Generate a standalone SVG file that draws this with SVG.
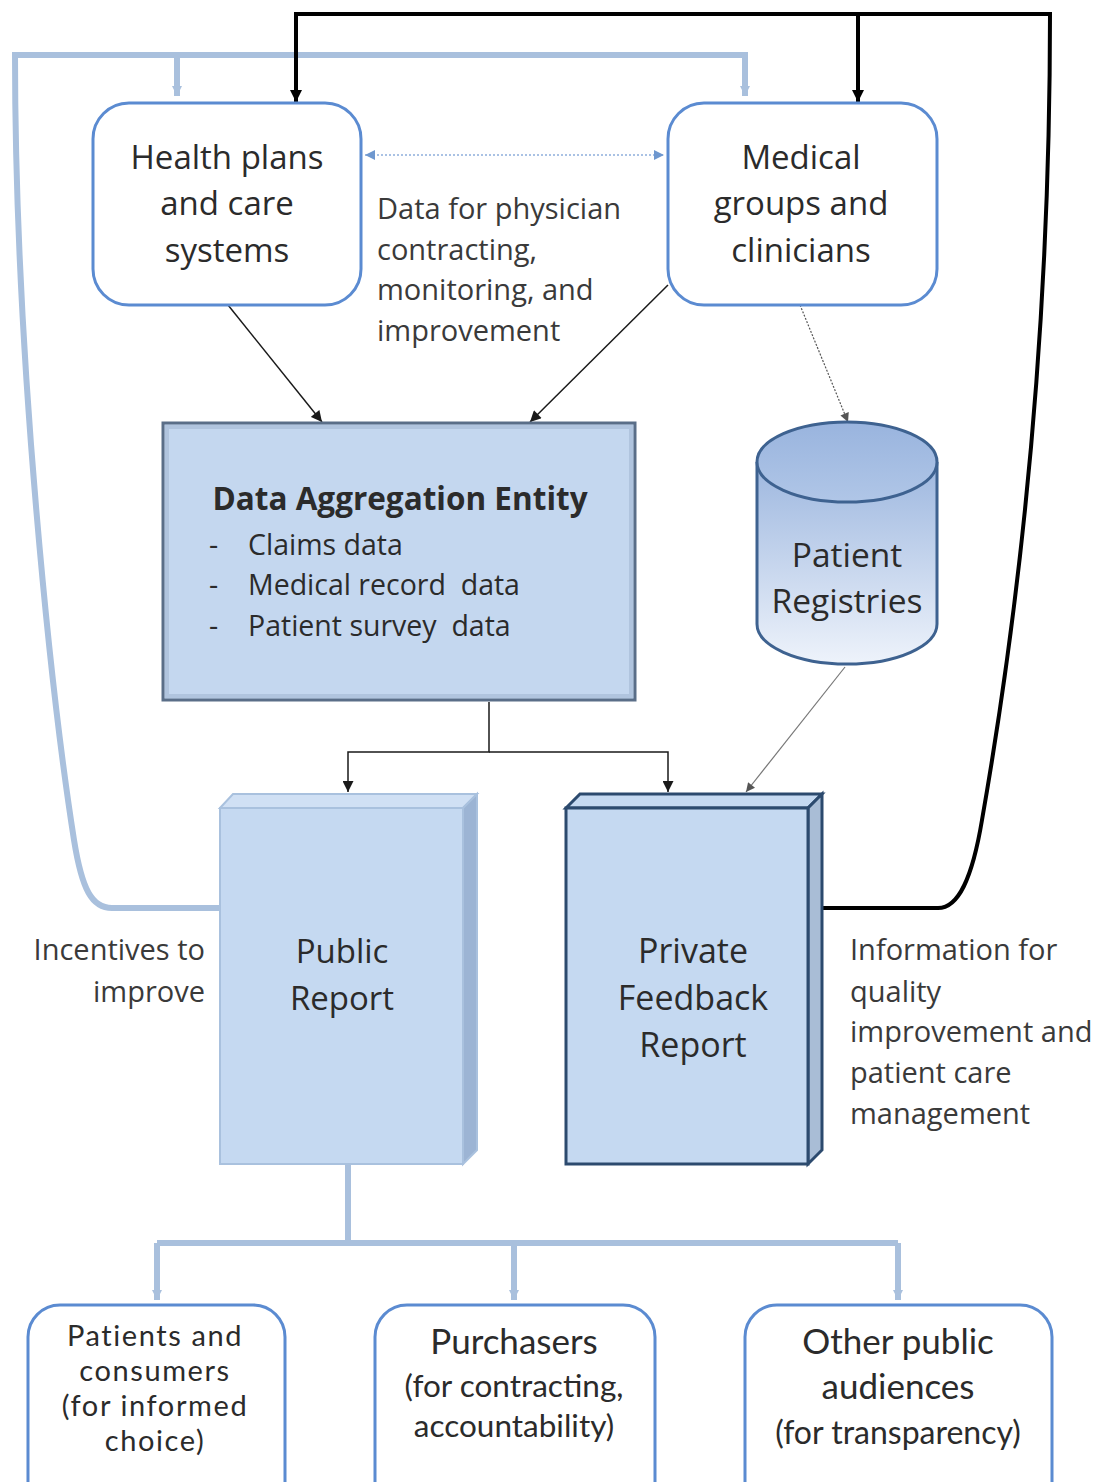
<svg xmlns="http://www.w3.org/2000/svg" width="1097" height="1482" viewBox="0 0 1097 1482">
<defs>
<style>
.t{font-family:"Open Sans","Liberation Sans",sans-serif;fill:#2b2b2b}
.c{font-family:Lato,"Open Sans","Liberation Sans",sans-serif;fill:#2b2b2b;text-anchor:middle}
.n{font-size:33px;text-anchor:middle}
.lab{font-size:29px;fill:#3a3a3a}
.rbox{fill:#ffffff;stroke:#5b8bd1;stroke-width:3}
.lb{fill:none;stroke:#a9c0dd;stroke-width:6}
.bk{fill:none;stroke:#000;stroke-width:4}
.thin{fill:none;stroke:#1a1a1a;stroke-width:1.5}
</style>
<marker id="ab" viewBox="0 0 10 10" refX="10" refY="5" markerUnits="userSpaceOnUse" markerWidth="12" markerHeight="14" orient="auto"><path d="M0,0L10,5L0,10z" fill="#000"/></marker>
<marker id="at" viewBox="0 0 10 10" refX="10" refY="5" markerUnits="userSpaceOnUse" markerWidth="13" markerHeight="11" orient="auto"><path d="M0,0L10,5L0,10z" fill="#1a1a1a"/></marker>
<marker id="ag" viewBox="0 0 10 10" refX="10" refY="5" markerUnits="userSpaceOnUse" markerWidth="11" markerHeight="9" orient="auto"><path d="M0,0L10,5L0,10z" fill="#555"/></marker>
<marker id="al" viewBox="0 0 10 10" refX="10" refY="5" markerUnits="userSpaceOnUse" markerWidth="10" markerHeight="12" orient="auto"><path d="M0,0L10,5L0,10z" fill="#a9c0dd"/></marker>
<marker id="ad" viewBox="0 0 10 10" refX="10" refY="5" markerUnits="userSpaceOnUse" markerWidth="10" markerHeight="10" orient="auto-start-reverse"><path d="M0,0L10,5L0,10z" fill="#6f98cf"/></marker>
<linearGradient id="cyl" x1="0" y1="0" x2="0" y2="1"><stop offset="0" stop-color="#9db7df"/><stop offset="1" stop-color="#eef3fb"/></linearGradient>
<linearGradient id="cyltop" x1="0" y1="0" x2="0" y2="1"><stop offset="0" stop-color="#99b4de"/><stop offset="1" stop-color="#b0c6e7"/></linearGradient>
</defs>
<rect width="1097" height="1482" fill="#ffffff"/>

<g id="connectors">
<path class="lb" d="M220,908 H112 C92,908 82,890 74,840 C52,700 15,360 15,55 H745 V96" marker-end="url(#al)"/>
<path class="lb" d="M177,55 V96" marker-end="url(#al)"/>
<path class="bk" d="M822,908 H938 C958,908 972,880 982,820 C1010,660 1050,380 1050,14 H296 V102" marker-end="url(#ab)"/>
<path class="bk" d="M858,14 V102" marker-end="url(#ab)"/>
<path d="M365,155 H664" fill="none" stroke="#8eaedb" stroke-width="1.6" stroke-dasharray="2 2" marker-start="url(#ad)" marker-end="url(#ad)"/>
<path class="thin" d="M228,305 L322,422" marker-end="url(#at)"/>
<path class="thin" d="M668,285 L530,422" marker-end="url(#at)"/>
<path d="M800,305 L848,422" fill="none" stroke="#555" stroke-width="1.2" stroke-dasharray="2 1.5" marker-end="url(#ag)"/>
<path class="thin" d="M489,702 V752 H348 V792" marker-end="url(#at)"/>
<path class="thin" d="M489,752 H668 V792" marker-end="url(#at)"/>
<path d="M845,667 L746,792" fill="none" stroke="#777" stroke-width="1.2" marker-end="url(#ag)"/>
<path class="lb" d="M348,1165 V1243"/>
<path class="lb" d="M157,1243 H898"/>
<path class="lb" d="M157,1243 V1300" marker-end="url(#al)"/>
<path class="lb" d="M514,1243 V1300" marker-end="url(#al)"/>
<path class="lb" d="M898,1243 V1300" marker-end="url(#al)"/>
</g>

<g id="health-plans">
<rect class="rbox" x="93" y="103" width="268" height="202" rx="36"/>
<text class="t n"><tspan x="227" y="169">Health plans</tspan><tspan x="227" y="215">and care</tspan><tspan x="227" y="262">systems</tspan></text>
</g>

<g id="medical-groups">
<rect class="rbox" x="668" y="103" width="269" height="202" rx="36"/>
<text class="t n"><tspan x="801" y="169">Medical</tspan><tspan x="801" y="215">groups and</tspan><tspan x="801" y="262">clinicians</tspan></text>
</g>

<g id="data-label">
<text class="t lab"><tspan x="377" y="219">Data for physician</tspan><tspan x="377" y="260">contracting,</tspan><tspan x="377" y="300">monitoring, and</tspan><tspan x="377" y="341">improvement</tspan></text>
</g>

<g id="data-aggregation">
<rect x="163" y="423" width="472" height="277" fill="#c4d7ef" stroke="#5a6e88" stroke-width="3"/>
<rect x="167" y="427" width="464" height="269" fill="none" stroke="#b0c4de" stroke-width="4"/>
<text class="t" x="400" y="510" style="font-size:31.5px;font-weight:bold" text-anchor="middle" fill="#1c1c24">Data Aggregation Entity</text>
<text class="t" style="font-size:28.5px" xml:space="preserve"><tspan x="209" y="555">-</tspan><tspan x="248" y="555">Claims data</tspan><tspan x="209" y="595">-</tspan><tspan x="248" y="595">Medical record  data</tspan><tspan x="209" y="636">-</tspan><tspan x="248" y="636">Patient survey  data</tspan></text>
</g>

<g id="patient-registries">
<path d="M757,462 V624 A90,40 0 0 0 937,624 V462" fill="url(#cyl)" stroke="#3e6290" stroke-width="3"/>
<ellipse cx="847" cy="462" rx="90" ry="40" fill="url(#cyltop)" stroke="#3e6290" stroke-width="3"/>
<text class="t n" style="font-size:33.5px"><tspan x="847" y="567">Patient</tspan><tspan x="847" y="613">Registries</tspan></text>
</g>

<g id="public-report">
<path d="M220,808 L233,794 H477 L463,808 Z" fill="#d0e0f4" stroke="#a9c1de" stroke-width="2"/>
<path d="M463,808 L477,794 V1150 L463,1164 Z" fill="#9cb4d4" stroke="#a9c1de" stroke-width="2"/>
<rect x="220" y="808" width="243" height="356" fill="#c5d9f1" stroke="#a9c1de" stroke-width="2"/>
<text class="t n"><tspan x="342" y="963">Public</tspan><tspan x="342" y="1010">Report</tspan></text>
</g>

<g id="private-report">
<path d="M566,808 L580,794 H822 L808,808 Z" fill="#c5d9f1" stroke="#2c4a6e" stroke-width="3"/>
<path d="M808,808 L822,794 V1150 L808,1164 Z" fill="#a9bdd6" stroke="#2c4a6e" stroke-width="3"/>
<rect x="566" y="808" width="242" height="356" fill="#c5d9f1" stroke="#2c4a6e" stroke-width="3"/>
<text class="t n" style="font-size:34px"><tspan x="693" y="963">Private</tspan><tspan x="693" y="1010">Feedback</tspan><tspan x="693" y="1057">Report</tspan></text>
</g>

<g id="incentives-label">
<text class="t lab" text-anchor="end"><tspan x="205" y="960">Incentives to</tspan><tspan x="205" y="1002">improve</tspan></text>
</g>

<g id="information-label">
<text class="t lab"><tspan x="850" y="960">Information for</tspan><tspan x="850" y="1002">quality</tspan><tspan x="850" y="1042">improvement and</tspan><tspan x="850" y="1083">patient care</tspan><tspan x="850" y="1124">management</tspan></text>
</g>

<g id="patients">
<rect class="rbox" x="28" y="1305" width="257" height="230" rx="32"/>
<text class="c" style="font-size:29px;letter-spacing:1.6px"><tspan x="155" y="1346">Patients and</tspan><tspan x="155" y="1381">consumers</tspan><tspan x="155" y="1416">(for informed</tspan><tspan x="155" y="1451">choice)</tspan></text>
</g>

<g id="purchasers">
<rect class="rbox" x="375" y="1305" width="280" height="230" rx="32"/>
<text class="c" style="font-size:35px"><tspan x="514" y="1354">Purchasers</tspan></text>
<text class="c" style="font-size:31.5px"><tspan x="514" y="1397">(for contracting,</tspan><tspan x="514" y="1437">accountability)</tspan></text>
</g>

<g id="other-public">
<rect class="rbox" x="745" y="1305" width="307" height="230" rx="32"/>
<text class="c" style="font-size:35px"><tspan x="898" y="1354">Other public</tspan><tspan x="898" y="1399">audiences</tspan></text>
<text class="c" style="font-size:32px"><tspan x="898" y="1444">(for transparency)</tspan></text>
</g>
</svg>
